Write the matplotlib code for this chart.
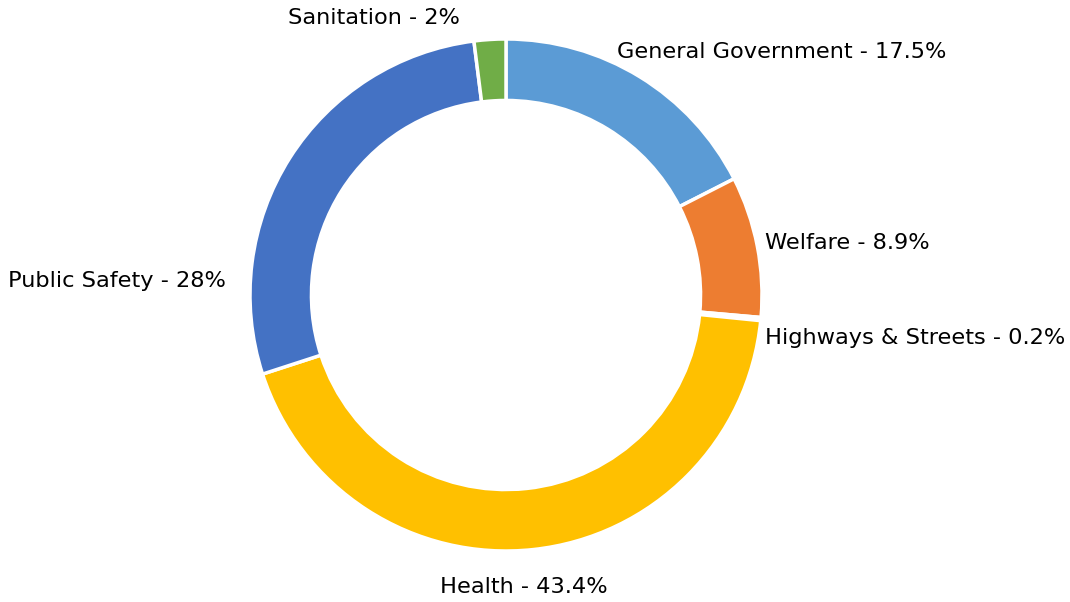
import matplotlib.pyplot as plt

categories = ['General Government', 'Welfare', 'Highways & Streets',
              'Health', 'Public Safety', 'Sanitation']
shares = [17.5, 8.9, 0.2, 43.4, 28, 2]
colors = ['#5B9BD5', '#ED7D31', '#A5A5A5', '#FFC000', '#4472C4', '#70AD47']

# label anchors (in pie radii) and alignment
label_pos = [(0.434, 0.949, 'left'), (1.012, 0.203, 'left'), (1.012, -0.168, 'left'),
             (0.070, -1.141, 'center'), (-1.094, 0.055, 'right'), (-0.18, 1.082, 'right')]

fig = plt.figure(figsize=(10.7, 6.02), dpi=100)
ax = fig.add_axes([0, 0, 1, 1])

ax.pie(shares, colors=colors, startangle=90, counterclock=False, radius=1,
       wedgeprops=dict(width=0.24, edgecolor='white', linewidth=2.5))

for name, val, (x, y, ha) in zip(categories, shares, label_pos):
    ax.text(x, y, f'{name} - {val:g}%', ha=ha, va='center', fontsize=16.2,
            color='black', family='DejaVu Sans')

ax.set_aspect('equal')
ax.set_xlim(-506 / 256, (1070 - 506) / 256)
ax.set_ylim(-(602 - 295) / 256, 295 / 256)
ax.axis('off')

fig.savefig('out.png', dpi=100, facecolor='white')
